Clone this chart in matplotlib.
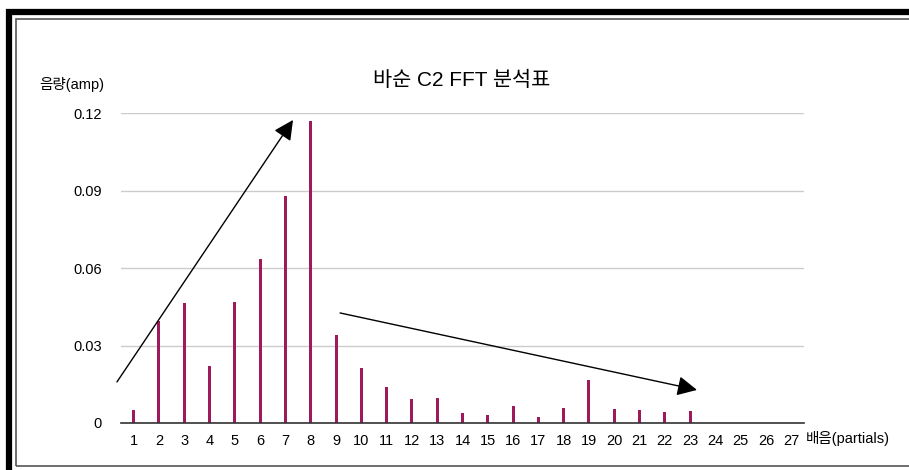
import matplotlib.pyplot as plt
from matplotlib.patches import Rectangle

plt.rcParams['font.family'] = ['Liberation Sans', 'Noto Sans CJK KR', 'DejaVu Sans']

# partial numbers and amplitudes
partials = [str(i) for i in range(1, 28)]
amps = [0.005, 0.0395, 0.0465, 0.022, 0.0468, 0.0635, 0.0879, 0.117, 0.034,
        0.0213, 0.0139, 0.0093, 0.0097, 0.0039, 0.003, 0.0066, 0.0023, 0.0058,
        0.0166, 0.0054, 0.005, 0.0043, 0.0046, 0, 0, 0, 0]
yticks = [0, 0.03, 0.06, 0.09, 0.12]
ytick_labels = ['0', '0.03', '0.06', '0.09', '0.12']

fig = plt.figure(figsize=(9.09, 4.70), dpi=100)

# frame around the chart (runs off the right edge like the screenshot)
W, H = 909, 470
fig.patches.append(Rectangle((9 / W, -0.1), 1.1, (H - 12) / H + 0.1,
                             transform=fig.transFigure, fill=False,
                             edgecolor='black', linewidth=4.5))
fig.patches.append(Rectangle((16 / W, 4 / H), 1.1, (H - 23) / H,
                             transform=fig.transFigure, fill=False,
                             edgecolor='#555555', linewidth=1.2))

ax = fig.add_axes([121 / W, (H - 423) / H, (804 - 121) / W, (423 - 113) / H])
x = list(range(len(partials)))
ax.bar(x, amps, width=0.12, color='#9e1a5a', zorder=3)

ax.set_xlim(-0.5, len(partials) - 0.5)
ax.set_ylim(0, 0.12)
ax.set_yticks(yticks)
ax.set_yticklabels(ytick_labels)
ax.set_xticks(x)
ax.set_xticklabels(partials)
ax.tick_params(length=0, labelsize=10.5, colors='black')
ax.tick_params(axis='y', pad=14)
ax.tick_params(axis='x', pad=8)
ax.grid(axis='y', color='#cccccc', linewidth=1, zorder=0)
for s in ['top', 'right', 'left']:
    ax.spines[s].set_visible(False)
ax.spines['bottom'].set_color('#333333')
ax.spines['bottom'].set_linewidth(1.2)
ax.spines['bottom'].set_zorder(4)

fig.text(462 / W, 1 - 80 / H, '바순 C2 FFT 분석표', ha='center', va='center',
         fontsize=15)
fig.text(72 / W, 1 - 85 / H, '음량(amp)', ha='center', va='center', fontsize=10.5)
fig.text(848 / W, 1 - 438 / H, '배음(partials)', ha='center', va='center',
         fontsize=10.5)

# trend arrows
arrow = dict(arrowstyle='-|>', color='black', lw=1, mutation_scale=30,
             shrinkA=0, shrinkB=0)
ax.annotate('', xy=(6.3, 0.1173), xytext=(-0.66, 0.0159),
            arrowprops=arrow, annotation_clip=False)
ax.annotate('', xy=(22.27, 0.0128), xytext=(8.16, 0.0426),
            arrowprops=arrow, annotation_clip=False)

fig.savefig('out.png', dpi=100)
